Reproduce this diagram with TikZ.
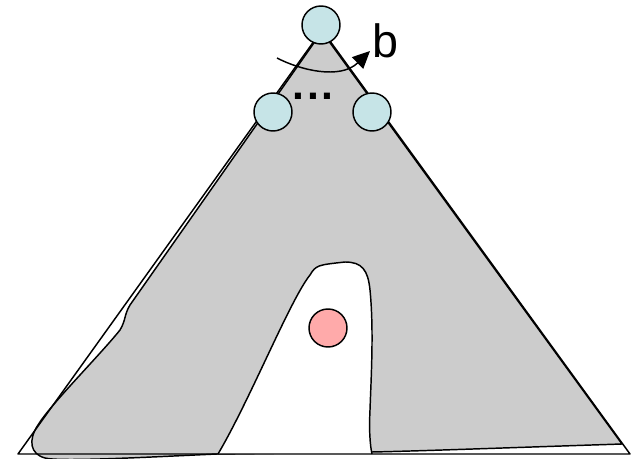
\documentclass[tikz,border=0pt]{standalone}
\usepackage{fontspec}
\setmainfont{Liberation Sans}
\usetikzlibrary{arrows.meta}
\definecolor{blobgray}{HTML}{CCCCCC}
\definecolor{nodeblue}{HTML}{C6E4E7}
\definecolor{nodepink}{HTML}{FFAAAA}
\tikzset{
  ball/.style={circle, draw=black, line width=1.1pt, minimum size=28.5pt, inner sep=0pt},
  outline/.style={draw=black, line width=1.1pt},
}
\begin{document}
\begin{tikzpicture}[x=0.75pt, y=-0.75pt]
\useasboundingbox (0,0) rectangle (632,459);
% gray blob
\path[outline, fill=blobgray, line join=round]
  (217,454) .. controls (150,457) and (60,462) .. (45,458)
  .. controls (30,454) and (28,440) .. (38,425)
  .. controls (50,405) and (100,355) .. (120,330)
  .. controls (126,320) and (124,315) .. (130,305)
  -- (316,40) -- (328,40) -- (622,444)
  .. controls (500,448) and (420,451) .. (372,452) -- cycle;
% white hole
\path[outline, fill=white]
  (218,454) .. controls (250,400) and (290,300) .. (310,275)
  .. controls (316,265) and (318,265) .. (345,262)
  .. controls (362,262) and (368,270) .. (370,290)
  .. controls (374,330) and (371,380) .. (370,410)
  .. controls (369,430) and (370,445) .. (372,454);
% outer triangle
\draw[outline, line join=round] (18,454) -- (322,30) -- (630,454) -- cycle;
% arrow arc
\coordinate (arcA) at (277,58);
\coordinate (arcB) at (370,51);
\draw[line width=1.1pt, -{Triangle[length=13pt, width=12pt]}]
  (arcA) .. controls (300,70) and (340,80) .. (arcB);
\node[anchor=west, font=\fontsize{35}{35}\selectfont] (lab) at (368,41) {b};
% circles
\node[ball, fill=nodeblue] (top) at (321,25) {};
\node[ball, fill=nodeblue] (left) at (273,112) {};
\node[ball, fill=nodeblue] (right) at (372,112) {};
\node[ball, fill=nodepink] (pink) at (328,328) {};
\node[font=\fontsize{32}{32}\selectfont\bfseries] (dots) at (313,96) {.\kern2pt.\kern2pt.};
\end{tikzpicture}
\end{document}
